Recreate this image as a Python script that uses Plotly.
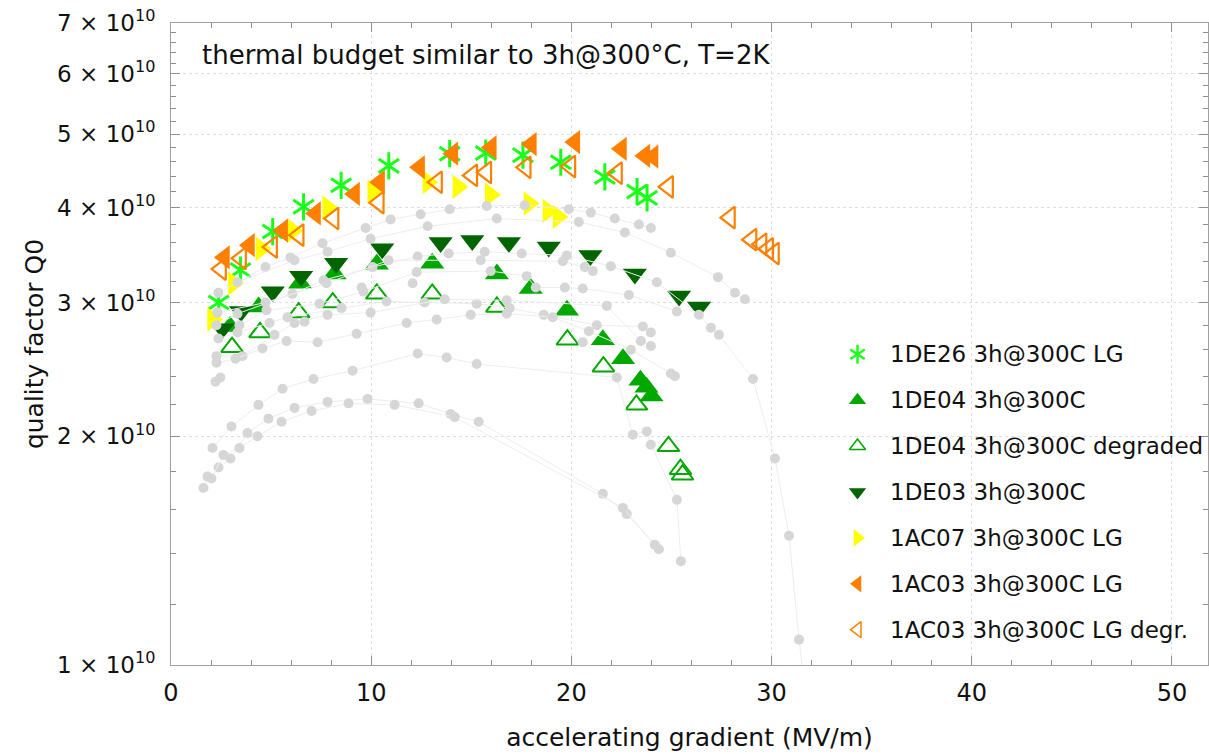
import plotly.graph_objects as go

# ---- coloured series: accelerating gradient (MV/m) and quality factor Q0 ----
de26_x = [2.38, 3.47, 5.08, 6.62, 8.50, 10.88, 13.92, 15.72, 17.58, 19.47, 21.67, 23.28, 23.78]
de26_q = [3.00e10, 3.31e10, 3.72e10, 4.01e10, 4.28e10, 4.54e10, 4.71e10, 4.72e10, 4.69e10, 4.59e10, 4.39e10, 4.20e10, 4.12e10]

de04_x = [2.95, 4.38, 6.45, 8.17, 10.28, 13.05, 16.28, 17.97, 19.78, 21.57, 22.58, 23.45, 23.75, 24.00]
de04_q = [2.79e10, 2.96e10, 3.18e10, 3.27e10, 3.37e10, 3.38e10, 3.27e10, 3.13e10, 2.93e10, 2.68e10, 2.53e10, 2.37e10, 2.32e10, 2.26e10]

de04d_x = [3.05, 4.45, 6.38, 8.08, 10.28, 13.05, 16.28, 19.80, 21.60, 23.25, 24.85, 25.45, 25.55]
de04d_q = [2.62e10, 2.74e10, 2.91e10, 3.00e10, 3.08e10, 3.08e10, 2.96e10, 2.68e10, 2.47e10, 2.20e10, 1.94e10, 1.81e10, 1.78e10]

de03_x = [2.57, 3.50, 5.08, 6.50, 8.25, 10.55, 13.47, 15.05, 16.88, 18.87, 20.95, 23.17, 25.38, 26.38]
de03_q = [2.77e10, 2.92e10, 3.10e10, 3.25e10, 3.38e10, 3.53e10, 3.60e10, 3.62e10, 3.60e10, 3.55e10, 3.46e10, 3.27e10, 3.06e10, 2.96e10]

ac07_x = [2.08, 3.12, 4.50, 6.08, 7.83, 10.08, 12.83, 14.33, 15.95, 17.88, 18.83, 19.33]
ac07_q = [2.85e10, 3.18e10, 3.53e10, 3.73e10, 4.00e10, 4.20e10, 4.32e10, 4.26e10, 4.16e10, 4.05e10, 3.96e10, 3.89e10]

ac03_x = [2.67, 3.92, 5.58, 7.22, 9.17, 10.42, 12.42, 14.08, 16.00, 18.00, 20.17, 22.50, 23.67, 24.08]
ac03_q = [3.44e10, 3.57e10, 3.73e10, 3.93e10, 4.17e10, 4.32e10, 4.52e10, 4.71e10, 4.80e10, 4.85e10, 4.88e10, 4.78e10, 4.68e10, 4.67e10]

ac03d_x = [2.50, 3.50, 5.05, 6.38, 8.12, 10.38, 13.29, 15.05, 15.75, 17.72, 19.95, 22.28, 24.83, 27.92, 29.00, 29.50, 29.83, 30.12]
ac03d_q = [3.32e10, 3.43e10, 3.55e10, 3.68e10, 3.87e10, 4.06e10, 4.32e10, 4.41e10, 4.45e10, 4.52e10, 4.53e10, 4.44e10, 4.26e10, 3.88e10, 3.63e10, 3.58e10, 3.53e10, 3.48e10]

# ---- grey reference curves (other cavities) ----
ref1_x = [2.37, 4.72, 5.97, 7.57, 9.72, 10.97, 12.47, 13.92, 15.77, 17.67, 19.87, 20.97, 22.17, 23.37, 23.97]
ref1_q = [3.09e10, 3.34e10, 3.44e10, 3.59e10, 3.76e10, 3.86e10, 3.92e10, 3.98e10, 4.02e10, 4.03e10, 3.98e10, 3.94e10, 3.87e10, 3.80e10, 3.76e10]

ref2_x = [3.32, 6.17, 7.82, 9.97, 12.82, 16.27, 20.37, 22.67, 24.97, 27.32, 28.17, 28.67]
ref2_q = [3.19e10, 3.41e10, 3.50e10, 3.64e10, 3.78e10, 3.87e10, 3.83e10, 3.71e10, 3.49e10, 3.24e10, 3.09e10, 3.03e10]

ref3_x = [2.27, 3.32, 6.07, 7.62, 10.07, 12.32, 13.87, 15.67, 17.52, 19.77, 21.97, 24.27, 26.37, 26.97, 27.37, 29.07, 30.17, 30.87, 31.37, 31.72]
ref3_q = [2.80e10, 2.90e10, 3.08e10, 3.21e10, 3.34e10, 3.45e10, 3.48e10, 3.50e10, 3.48e10, 3.46e10, 3.35e10, 3.19e10, 2.89e10, 2.78e10, 2.72e10, 2.38e10, 1.87e10, 1.48e10, 1.08e10, 0.90e10]

ref4_x = [2.32, 4.72, 7.77, 10.87, 15.47, 19.57, 20.67, 21.07]
ref4_q = [2.91e10, 3.00e10, 3.18e10, 3.41e10, 3.41e10, 3.40e10, 3.34e10, 3.30e10]

ref5_x = [3.42, 4.77, 7.42, 9.62, 12.27, 15.97, 17.77, 18.22, 19.67, 20.57, 22.87, 25.27]
ref5_q = [2.80e10, 2.93e10, 2.99e10, 3.10e10, 3.29e10, 3.30e10, 3.25e10, 3.14e10, 3.14e10, 3.13e10, 3.07e10, 2.92e10]

ref6_x = [2.37, 3.32, 5.82, 8.52, 10.77, 12.67, 15.27, 16.92, 18.62, 21.27, 23.57, 23.97]
ref6_q = [2.69e10, 2.74e10, 2.87e10, 2.95e10, 3.01e10, 3.00e10, 2.99e10, 2.95e10, 2.89e10, 2.80e10, 2.79e10, 2.74e10]

ref7_x = [2.27, 3.57, 5.17, 6.17, 7.82, 9.97, 13.67, 16.77, 21.77, 23.47, 23.97]
ref7_q = [2.55e10, 2.55e10, 2.72e10, 2.82e10, 2.89e10, 2.91e10, 3.03e10, 3.02e10, 2.97e10, 2.67e10, 2.63e10]

ref8_x = [2.27, 3.22, 4.57, 5.77, 7.32, 9.27, 11.77, 13.27, 14.97, 16.77, 19.07, 20.87, 22.97, 24.97, 25.17]
ref8_q = [2.50e10, 2.53e10, 2.61e10, 2.67e10, 2.66e10, 2.73e10, 2.82e10, 2.85e10, 2.89e10, 2.90e10, 2.87e10, 2.75e10, 2.60e10, 2.42e10, 2.40e10]

ref9_x = [2.07, 3.02, 4.37, 5.57, 7.12, 9.07, 12.32, 13.77, 15.27, 22.27, 23.07, 23.77, 23.97, 25.27, 25.47]
ref9_q = [1.93e10, 2.06e10, 2.20e10, 2.31e10, 2.38e10, 2.44e10, 2.57e10, 2.54e10, 2.49e10, 2.39e10, 2.01e10, 2.03e10, 1.95e10, 1.65e10, 1.37e10]

ref10_x = [1.62, 2.37, 2.97, 3.82, 4.87, 6.17, 7.82, 9.82, 12.37, 13.97, 15.37, 21.57, 22.77, 24.37]
ref10_q = [1.71e10, 1.82e10, 1.87e10, 2.02e10, 2.11e10, 2.18e10, 2.22e10, 2.24e10, 2.21e10, 2.14e10, 2.09e10, 1.68e10, 1.58e10, 1.42e10]

ref11_x = [1.82, 2.02, 2.62, 3.42, 4.32, 5.52, 7.02, 8.87, 11.17, 14.17, 22.57, 24.17]
ref11_q = [1.77e10, 1.76e10, 1.89e10, 1.93e10, 2.00e10, 2.09e10, 2.16e10, 2.21e10, 2.20e10, 2.12e10, 1.61e10, 1.44e10]

# loose reference points not tied to a drawn curve
ref_pts_x = [9.52, 12.07, 20.57, 4.92, 2.22, 2.47, 6.67]
ref_pts_q = [3.14e10, 3.18e10, 2.66e10, 2.82e10, 2.36e10, 2.39e10, 2.83e10]

ref_curves = [
    (ref1_x, ref1_q), (ref2_x, ref2_q), (ref3_x, ref3_q), (ref4_x, ref4_q),
    (ref5_x, ref5_q), (ref6_x, ref6_q), (ref7_x, ref7_q), (ref8_x, ref8_q),
    (ref9_x, ref9_q), (ref10_x, ref10_q), (ref11_x, ref11_q),
]

# ---- axis ticks ----
x_major = [0, 10, 20, 30, 40, 50]
x_minor = [2, 4, 6, 8, 12, 14, 16, 18, 22, 24, 26, 28, 32, 34, 36, 38, 42, 44, 46, 48]
y_major = [1e10, 2e10, 3e10, 4e10, 5e10, 6e10, 7e10]
y_major_text = ["1 × 10<sup>10</sup>", "2 × 10<sup>10</sup>", "3 × 10<sup>10</sup>", "4 × 10<sup>10</sup>",
                "5 × 10<sup>10</sup>", "6 × 10<sup>10</sup>", "7 × 10<sup>10</sup>"]
y_minor = [1.2e10, 1.4e10, 1.6e10, 1.8e10, 2.2e10, 2.4e10, 2.6e10, 2.8e10, 3.2e10, 3.4e10, 3.6e10, 3.8e10,
           4.2e10, 4.4e10, 4.6e10, 4.8e10, 5.2e10, 5.4e10, 5.6e10, 5.8e10, 6.2e10, 6.4e10, 6.6e10, 6.8e10]

legend_labels = ["1DE26 3h@300C LG", "1DE04 3h@300C", "1DE04 3h@300C degraded", "1DE03 3h@300C",
                 "1AC07 3h@300C LG", "1AC03 3h@300C LG", "1AC03 3h@300C LG degr."]

FONT = "DejaVu Sans"
LIME = "#1aff1a"
GREEN = "#00a800"
DARK = "#006400"
YELLOW = "#ffff00"
ORANGE = "#ff8000"
GREY_DOT = "#d6d6d6"
GREY_LINE = "#ededed"

fig = go.Figure()

# coloured series, drawn in list order; the six-armed star is two three-armed glyphs
for sym in ("y-up-open", "y-down-open"):
    fig.add_trace(go.Scatter(x=de26_x, y=de26_q, mode="markers", showlegend=False,
                             marker=dict(symbol=sym, size=17, color=LIME, line=dict(color=LIME, width=3))))
fig.add_trace(go.Scatter(x=de04_x, y=de04_q, mode="markers", showlegend=False,
                         marker=dict(symbol="triangle-up", size=21, color=GREEN, line=dict(width=0))))
fig.add_trace(go.Scatter(x=de04d_x, y=de04d_q, mode="markers", showlegend=False,
                         marker=dict(symbol="triangle-up-open", size=19, color=GREEN, line=dict(color=GREEN, width=2))))
fig.add_trace(go.Scatter(x=de03_x, y=de03_q, mode="markers", showlegend=False,
                         marker=dict(symbol="triangle-down", size=21, color=DARK, line=dict(width=0))))
fig.add_trace(go.Scatter(x=ac07_x, y=ac07_q, mode="markers", showlegend=False,
                         marker=dict(symbol="triangle-right", size=21, color=YELLOW, line=dict(width=0))))
fig.add_trace(go.Scatter(x=ac03_x, y=ac03_q, mode="markers", showlegend=False,
                         marker=dict(symbol="triangle-left", size=21, color=ORANGE, line=dict(width=0))))
fig.add_trace(go.Scatter(x=ac03d_x, y=ac03d_q, mode="markers", showlegend=False,
                         marker=dict(symbol="triangle-left-open", size=19, color=ORANGE, line=dict(color=ORANGE, width=2.2))))

# grey reference curves on top
for cx, cq in ref_curves:
    fig.add_trace(go.Scatter(x=cx, y=cq, mode="lines+markers", showlegend=False,
                             line=dict(color=GREY_LINE, width=1),
                             marker=dict(size=10, color=GREY_DOT)))
fig.add_trace(go.Scatter(x=ref_pts_x, y=ref_pts_q, mode="markers", showlegend=False,
                         marker=dict(size=10, color=GREY_DOT)))

# legend drawn on an overlay frame in fractional coordinates
leg_sym_x = 0.662
leg_text_x = 0.691
leg_rows = [0.484, 0.4125, 0.341, 0.2695, 0.198, 0.1265, 0.055]
leg_styles = [
    None,
    dict(symbol="triangle-up", size=15, color=GREEN, line=dict(width=0)),
    dict(symbol="triangle-up-open", size=14, color=GREEN, line=dict(color=GREEN, width=1.5)),
    dict(symbol="triangle-down", size=15, color=DARK, line=dict(width=0)),
    dict(symbol="triangle-right", size=15, color=YELLOW, line=dict(width=0)),
    dict(symbol="triangle-left", size=15, color=ORANGE, line=dict(width=0)),
    dict(symbol="triangle-left-open", size=14, color=ORANGE, line=dict(color=ORANGE, width=1.5)),
]
for sym in ("y-up-open", "y-down-open"):
    fig.add_trace(go.Scatter(x=[leg_sym_x], y=[leg_rows[0]], xaxis="x2", yaxis="y2", mode="markers",
                             showlegend=False, hoverinfo="skip",
                             marker=dict(symbol=sym, size=12, color=LIME, line=dict(color=LIME, width=2.4))))
for row, style in zip(leg_rows[1:], leg_styles[1:]):
    fig.add_trace(go.Scatter(x=[leg_sym_x], y=[row], xaxis="x2", yaxis="y2", mode="markers",
                             showlegend=False, hoverinfo="skip", marker=style))

annotations = [dict(x=leg_text_x, y=row, xref="paper", yref="paper", text=label, showarrow=False,
                    xanchor="left", yanchor="middle", font=dict(family=FONT, size=23, color="#111"))
               for row, label in zip(leg_rows, legend_labels)]
annotations.append(dict(x=0.028, y=0.95, xref="paper", yref="paper",
                        text="thermal budget similar to 3h@300°C, T=2K", showarrow=False,
                        xanchor="left", yanchor="middle", font=dict(family=FONT, size=26, color="#111")))

axis_common = dict(showline=True, linecolor="#a0a0a0", linewidth=1, mirror="ticks",
                   ticks="inside", ticklen=9, tickcolor="#909090", tickwidth=1,
                   showgrid=True, gridcolor="#dedede", griddash="dot", gridwidth=1,
                   zeroline=False)

fig.update_layout(
    width=1209, height=754,
    margin=dict(l=171, r=1, t=23, b=89),
    paper_bgcolor="white", plot_bgcolor="white",
    showlegend=False,
    annotations=annotations,
    xaxis=dict(range=[0, 51.8], tickmode="array", tickvals=x_major,
               minor=dict(tickmode="array", tickvals=x_minor, ticks="inside", ticklen=5,
                          tickcolor="#909090", showgrid=False),
               ticklabelstandoff=6, tickfont=dict(family=FONT, size=24, color="#111"),
               title=dict(text="accelerating gradient (MV/m)", font=dict(family=FONT, size=25, color="#111"),
                          standoff=22),
               **axis_common),
    yaxis=dict(type="log", range=[10, 10.845098], tickmode="array", tickvals=y_major, ticktext=y_major_text,
               minor=dict(tickmode="array", tickvals=y_minor, ticks="inside", ticklen=5,
                          tickcolor="#909090", showgrid=False),
               ticklabelstandoff=10, tickfont=dict(family=FONT, size=23, color="#111"),
               title=dict(text="quality factor Q0", font=dict(family=FONT, size=25, color="#111"),
                          standoff=6),
               **axis_common),
    xaxis2=dict(overlaying="x", anchor="y2", range=[0, 1], visible=False, fixedrange=True),
    yaxis2=dict(overlaying="y", anchor="x2", range=[0, 1], visible=False, fixedrange=True),
)

fig.write_html("out.html")
